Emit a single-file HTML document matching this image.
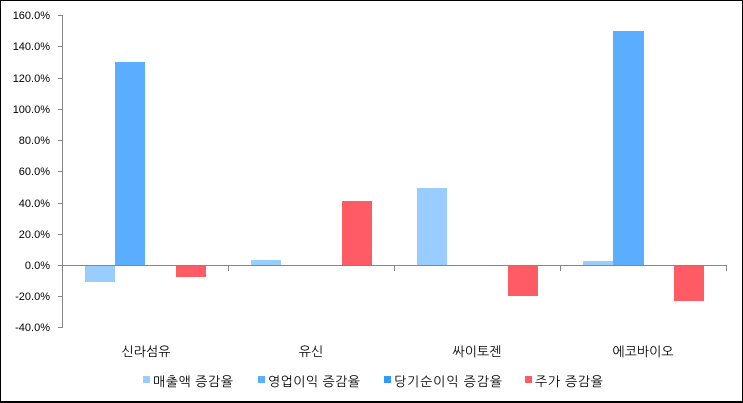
<!DOCTYPE html>
<html><head><meta charset="utf-8"><style>
html,body{margin:0;padding:0;background:#fff;}
svg{display:block;}
text{font-family:"Liberation Sans","NanumGothic","Noto Sans CJK KR",sans-serif;fill:#000;}
</style></head><body>
<svg width="743" height="403" viewBox="0 0 743 403" xmlns="http://www.w3.org/2000/svg" shape-rendering="crispEdges">
<rect x="0" y="0" width="743" height="403" fill="#fff"/>
<!-- border -->
<rect x="0" y="0" width="743" height="1" fill="#000"/>
<rect x="0" y="0" width="1" height="403" fill="#000"/>
<rect x="742" y="0" width="1" height="403" fill="#000"/>
<rect x="0" y="401" width="743" height="2" fill="#000"/>

<!-- 신라섬유 -->
<rect x="85" y="265" width="30" height="17" fill="#99CCFF"/>
<rect x="115" y="62" width="30" height="203" fill="#5AADFF"/>
<rect x="176" y="265" width="30" height="12" fill="#FF5B64"/>
<!-- 유신 -->
<rect x="251" y="260" width="30" height="5" fill="#99CCFF"/>
<rect x="342" y="201" width="30" height="64" fill="#FF5B64"/>
<!-- 싸이토젠 -->
<rect x="417" y="188" width="30" height="77" fill="#99CCFF"/>
<rect x="508" y="265" width="30" height="31" fill="#FF5B64"/>
<!-- 에코바이오 -->
<rect x="583" y="261" width="30" height="4" fill="#99CCFF"/>
<rect x="613" y="31" width="31" height="234" fill="#5AADFF"/>
<rect x="674" y="265" width="30" height="36" fill="#FF5B64"/>

<!-- axes -->
<g fill="#868686">
<rect x="62" y="15" width="1" height="313"/>
<rect x="62" y="265" width="665" height="1"/>
<rect x="58" y="15" width="4" height="1"/>
<rect x="58" y="46" width="4" height="1"/>
<rect x="58" y="78" width="4" height="1"/>
<rect x="58" y="109" width="4" height="1"/>
<rect x="58" y="140" width="4" height="1"/>
<rect x="58" y="171" width="4" height="1"/>
<rect x="58" y="203" width="4" height="1"/>
<rect x="58" y="234" width="4" height="1"/>
<rect x="58" y="265" width="4" height="1"/>
<rect x="58" y="296" width="4" height="1"/>
<rect x="58" y="327" width="4" height="1"/>
<rect x="228" y="265" width="1" height="6"/>
<rect x="394" y="265" width="1" height="6"/>
<rect x="560" y="265" width="1" height="6"/>
<rect x="726" y="265" width="1" height="6"/>
</g>

<!-- y labels -->
<g font-size="11" text-anchor="end">
<text x="50" y="19">160.0%</text>
<text x="50" y="50">140.0%</text>
<text x="50" y="82">120.0%</text>
<text x="50" y="113">100.0%</text>
<text x="50" y="144">80.0%</text>
<text x="50" y="175">60.0%</text>
<text x="50" y="207">40.0%</text>
<text x="50" y="238">20.0%</text>
<text x="50" y="269">0.0%</text>
<text x="50" y="300">-20.0%</text>
<text x="50" y="331">-40.0%</text>
</g>

<!-- category labels -->
<g font-size="13" text-anchor="middle">
<text x="146" y="356">신라섬유</text>
<text x="311" y="356">유신</text>
<text x="477" y="356">싸이토젠</text>
<text x="643" y="356">에코바이오</text>
</g>

<!-- legend -->
<rect x="143" y="376" width="7" height="7" fill="#99CCFF"/>
<text x="153" y="386" font-size="13" textLength="80" lengthAdjust="spacing">매출액 증감율</text>
<rect x="258" y="376" width="7" height="7" fill="#5AADFF"/>
<text x="268" y="386" font-size="13" textLength="92" lengthAdjust="spacing">영업이익 증감율</text>
<rect x="384" y="376" width="7" height="7" fill="#3399FF"/>
<text x="394" y="386" font-size="13" textLength="108" lengthAdjust="spacing">당기순이익 증감율</text>
<rect x="525" y="376" width="7" height="7" fill="#FF5B64"/>
<text x="535" y="386" font-size="13" textLength="68" lengthAdjust="spacing">주가 증감율</text>
</svg>
</body></html>
